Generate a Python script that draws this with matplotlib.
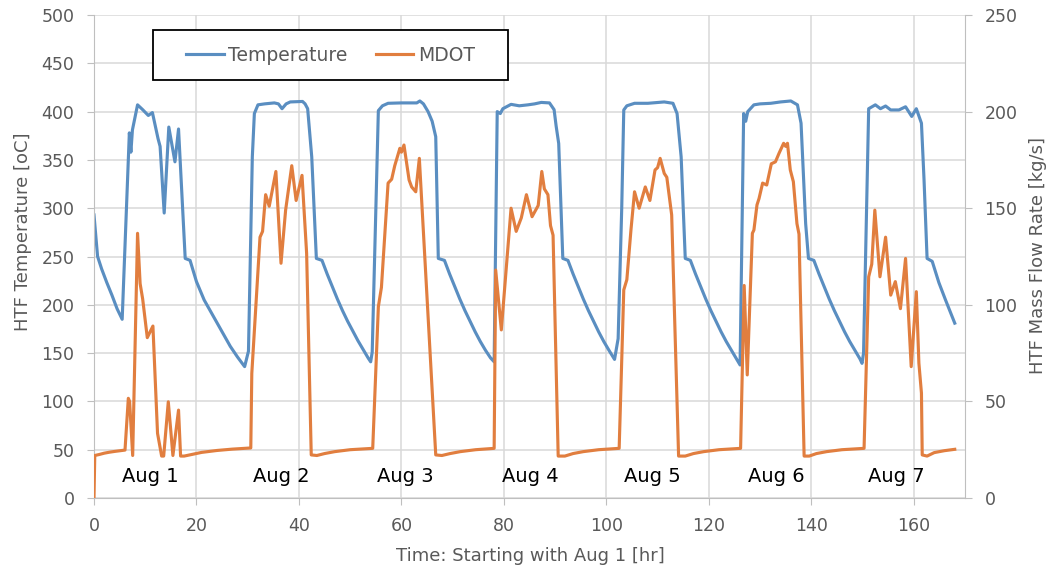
import matplotlib.pyplot as plt
from matplotlib.patches import Rectangle

# === DATA ===
# HTF temperature [oC] vs time [hr]
temp_t = [
    0, 0.7, 1.5, 2.5, 3.5, 4.5, 5.5, 6.9, 7.2, 7.5, 8.5, 9.5, 10.6, 11.4, 12.5, 12.9, 13.7, 14.6, 15.8, 16.5, 17.8, 18.75,
    20, 21.5, 23.3, 25, 26.6, 28, 29.4,
    30.15, 30.9, 31.3, 32, 33.3, 35.2, 36.0, 36.7, 37.5, 38.3, 40.7, 41.2, 41.7, 42.5, 43.4, 44.5,
    45.5, 46.5, 47.5, 48.5, 49.5, 50.5, 51.5, 52.5, 53.5, 54.0,
    54.3, 55.5, 56.3, 57.4, 60, 63, 63.6, 64.3, 65.2, 66.0, 66.7, 67.2, 68.4,
    69.4, 70.4, 71.4, 72.4, 73.4, 74.4, 75.4, 76.4, 77.4, 78.1,
    78.7, 79.3, 79.8, 81.4, 83, 84.7, 86, 87.3, 88.9, 89.8, 90.2, 90.7, 91.5, 92.5,
    93.5, 94.5, 95.5, 96.5, 97.5, 98.5, 99.5, 100.5, 101.6,
    102.3, 103.0, 103.4, 104, 105.5, 108.1, 111.3, 113, 113.8, 114.6, 115.4, 116.4,
    117.4, 118.4, 119.4, 120.4, 121.4, 122.4, 123.4, 124.4, 125.4, 126.1,
    126.8, 127.2, 127.6, 128.8, 130, 132.1, 134, 136, 137.3, 138.0, 138.9, 139.45, 140.5,
    141.5, 142.5, 143.5, 144.5, 145.5, 146.5, 147.5, 148.5, 149.5, 149.9,
    150.2, 151.2, 152.5, 153.5, 154.5, 155.5, 157.1, 158.4, 159.6, 160.5, 161.5, 162.0, 162.6, 163.6, 164.9, 166.2, 168,
]
temp_val = [
    293, 250, 237, 223, 210, 196, 185, 378, 358, 381, 407, 402, 396, 399, 372, 364, 295, 384, 348, 382, 248, 246,
    224, 205, 188, 172, 157, 146, 136,
    152, 353, 398, 407, 408, 409, 408, 403, 408, 410, 410.5, 408, 403, 353, 248, 246,
    232, 219, 206, 194, 183, 173, 163, 154, 145, 141,
    151, 401, 406, 408.6, 409, 409, 411, 408, 400, 390, 374, 248, 246,
    232, 219, 206, 194, 183, 172, 162, 153, 145, 141,
    400, 398, 403, 407.5, 406, 407, 408, 409.5, 409, 402, 385, 367, 248, 246,
    232, 219, 206, 194, 183, 172, 162, 153, 143.5,
    165, 300, 401.7, 406, 408.6, 408.6, 410, 408.6, 398, 353, 248, 246,
    232, 219, 206, 194, 183, 172, 162, 153, 144, 137.7,
    398, 390, 400, 407, 408, 408.6, 410, 411, 407, 388, 284, 248, 246,
    232, 219, 206, 194, 183, 172, 162, 153, 144, 139.4,
    150, 403, 407, 403, 405.8, 401.7, 401.7, 405, 395, 403, 388, 330, 248, 245, 223, 205, 181,
]

# HTF mass flow rate [kg/s] vs time [hr]
mdot_t = [
    0, 0.15, 1, 2, 3, 4, 6.05, 6.7, 6.95, 7.55, 8.5, 9.0, 9.5, 10.4, 11.5, 12.4, 13.2, 13.6, 14.5, 15.4, 16.5, 16.9, 17.6,
    19, 21, 24, 27, 30.6,
    30.8, 32.4, 32.9, 33.5, 34.2, 35.5, 36.5, 37.4, 38.6, 39.45, 40.6, 41.5, 42.4, 43.5,
    45, 47, 50, 54.4,
    55.5, 56.1, 57.4, 58.1, 58.7, 59.7, 60.0, 60.5, 61.5, 62.0, 62.8, 63.5, 66.7, 67.9,
    69.5, 71.5, 74.5, 78.1,
    78.4, 79.5, 80.8, 81.4, 82.4, 83.4, 84.4, 85.5, 86.7, 87.4, 87.9, 88.6, 89.1, 89.6, 90.6, 91.9,
    93.5, 95.5, 98.5, 102.5,
    103.4, 104.0, 104.8, 105.5, 106.4, 107.6, 108.5, 109.5, 110.0, 110.5, 111.3, 111.8, 112.75, 114.1, 115.4,
    117, 119, 122, 126.2,
    126.9, 127.5, 128.5, 128.8, 129.4, 129.8, 130.5, 131.3, 132.2, 133.0, 133.7, 134.6, 135.0, 135.35, 135.9,
    136.5, 137.2, 137.6, 138.6, 139.6,
    141, 143, 146, 150.3,
    151.2, 151.8, 152.4, 153.4, 154.5, 155.5, 156.4, 157.4, 158.4, 159.5, 160.5, 161.0, 161.5, 161.65, 162.6,
    164, 166, 168,
]
mdot_val = [
    0, 22, 22.5, 23.2, 23.7, 24.1, 24.8, 51.6, 50, 22, 137, 111, 103, 83, 89, 33.5, 21.7, 21.7, 49.8, 22, 45.5, 21.7, 21.7,
    22.5, 23.6, 24.6, 25.3, 25.9,
    64.5, 135, 138, 157, 151, 169, 121.5, 149, 172, 154, 167, 126.6, 22.3, 22,
    23, 24, 25, 25.7,
    99, 109, 163, 165, 172, 181, 179, 182.7, 164.6, 161, 158.5, 175.8, 22.3, 22,
    23, 24, 25, 25.7,
    118, 87, 130, 150, 138, 145, 157, 145.6, 151.4, 169, 160, 157, 141, 136, 21.7, 21.7,
    23, 24, 25, 25.7,
    107.7, 113, 138.7, 158.5, 150, 161, 154, 169.8, 171, 175.8, 168, 166, 146.5, 21.7, 21.7,
    23, 24, 25, 25.7,
    110, 63.7, 137, 138.7, 151.7, 155, 163, 162, 173, 174, 178.4, 183.6, 182, 183.6, 169.8,
    163.7, 142, 136.6, 21.7, 21.7,
    23, 24, 25, 25.7,
    114.5, 121, 149, 114.5, 135, 105, 112, 98, 124, 68, 106.8, 69.8, 54.3, 22.3, 21.7,
    23.5, 24.5, 25.2,
]

day_labels = ["Aug 1", "Aug 2", "Aug 3", "Aug 4", "Aug 5", "Aug 6", "Aug 7"]
day_label_t = [11.0, 36.6, 60.8, 85.1, 109.0, 133.1, 156.6]

assert len(temp_t) == len(temp_val)
assert len(mdot_t) == len(mdot_val)

# === STYLE ===
blue = "#5A8EC1"
orange = "#E17E3F"
grey_txt = "#595959"
grid_c = "#D9D9D9"
axis_c = "#BFBFBF"

fig = plt.figure(figsize=(10.55, 5.77), dpi=100)
ax = fig.add_axes([94 / 1055, 1 - 498 / 577, 871 / 1055, 483 / 577])
ax2 = ax.twinx()

l1, = ax.plot(temp_t, temp_val, color=blue, lw=2.25, label="Temperature")
l2, = ax2.plot(mdot_t, mdot_val, color=orange, lw=2.25, label="MDOT")

ax.set_xlim(0, 170)
ax.set_ylim(0, 500)
ax2.set_ylim(0, 250)
ax.set_xticks(range(0, 161, 20))
ax.set_yticks(range(0, 501, 50))
ax2.set_yticks(range(0, 251, 50))

ax.grid(True, color=grid_c, lw=1.1)
ax.set_axisbelow(True)

for a in (ax, ax2):
    for s in a.spines.values():
        s.set_visible(False)
ax.spines["left"].set_visible(True)
ax.spines["bottom"].set_visible(True)
ax2.spines["right"].set_visible(True)
ax.spines["left"].set_color(axis_c)
ax.spines["bottom"].set_color(axis_c)
ax2.spines["right"].set_color(axis_c)

ax.tick_params(axis="y", length=5, color=axis_c, labelcolor=grey_txt, labelsize=12.5, pad=9)
ax.tick_params(axis="x", length=5, color=axis_c, labelcolor=grey_txt, labelsize=12.5, pad=9)
ax2.tick_params(axis="y", length=5, color=axis_c, labelcolor=grey_txt, labelsize=12.5, pad=9)

for lab, t in zip(day_labels, day_label_t):
    ax.text(t, 22, lab, ha="center", va="center", fontsize=14, color="black")

fig.text(23 / 1055, 1 - 232 / 577, "HTF Temperature [oC]", rotation=90,
         ha="center", va="center", fontsize=13, color=grey_txt)
fig.text(1038 / 1055, 1 - 256 / 577, "HTF Mass Flow Rate [kg/s]", rotation=90,
         ha="center", va="center", fontsize=13, color=grey_txt)
fig.text(530 / 1055, 1 - 556 / 577, "Time: Starting with Aug 1 [hr]",
         ha="center", va="center", fontsize=13, color=grey_txt)

# legend box drawn by hand so the padding matches
box_x, box_y, box_w, box_h = 0.068, 0.865, 0.407, 0.104
ax2.add_patch(Rectangle((box_x, box_y), box_w, box_h, transform=ax2.transAxes,
                        facecolor="white", edgecolor="black", lw=1.3, zorder=5))
leg = ax2.legend([l1, l2], ["Temperature", "MDOT"], loc="center",
                 bbox_to_anchor=(box_x + box_w / 2, box_y + box_h / 2),
                 ncol=2, frameon=False, fontsize=13.5, handlelength=2.0,
                 handletextpad=0.25, columnspacing=1.5, borderpad=0)
leg.set_zorder(6)
for txt in leg.get_texts():
    txt.set_color(grey_txt)

fig.savefig("out.png", dpi=100)
